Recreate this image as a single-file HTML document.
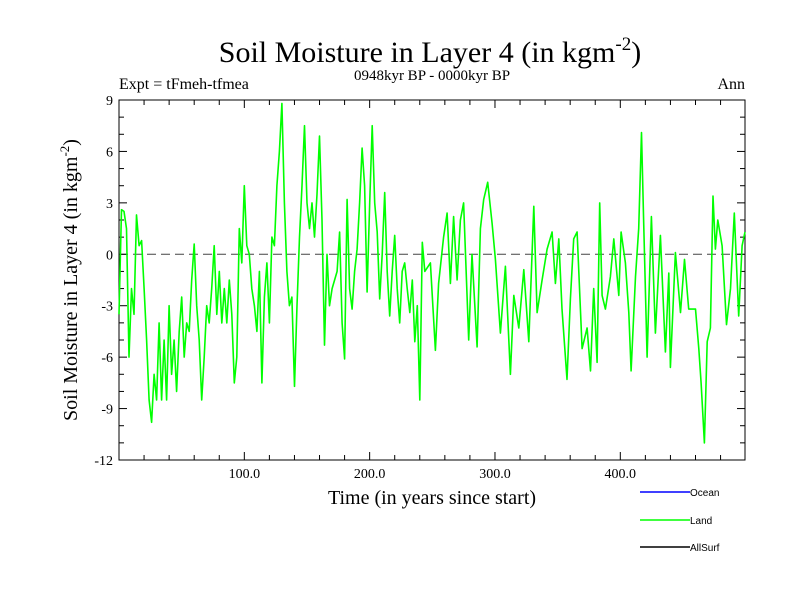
<!DOCTYPE html>
<html><head><meta charset="utf-8"><style>
body{margin:0;background:#fff}
svg text{font-family:"Liberation Serif",serif}
</style></head><body>
<svg id="chart" width="800" height="600" xmlns="http://www.w3.org/2000/svg">
<rect width="800" height="600" fill="#fff"/>
<text x="430" y="62" font-size="30" text-anchor="middle">Soil Moisture in Layer 4 (in kgm<tspan dy="-12" font-size="19">-2</tspan><tspan dy="12">)</tspan></text>
<text x="432" y="80" font-size="15" text-anchor="middle">0948kyr BP - 0000kyr BP</text>
<text x="119" y="89" font-size="16">Expt = tFmeh-tfmea</text>
<text x="745" y="89" font-size="16" text-anchor="end">Ann</text>
<text transform="translate(77,280) rotate(-90)" font-size="20" text-anchor="middle">Soil Moisture in Layer 4 (in kgm<tspan dy="-8" font-size="13">-2</tspan><tspan dy="8">)</tspan></text>
<text x="432" y="504" font-size="20" text-anchor="middle">Time (in years since start)</text>
<g id="axes"></g>
<g id="series"></g>
<g font-family="Liberation Sans" font-size="10">
<line x1="640" y1="492" x2="690" y2="492" stroke="#0000ff" stroke-width="1.5"/>
<text x="690" y="496" style="font-family:'Liberation Sans',sans-serif" font-size="10">Ocean</text>
<line x1="640" y1="520" x2="690" y2="520" stroke="#00ff00" stroke-width="1.5"/>
<text x="690" y="524" style="font-family:'Liberation Sans',sans-serif" font-size="10">Land</text>
<line x1="640" y1="547" x2="690" y2="547" stroke="#000" stroke-width="1.5"/>
<text x="690" y="551" style="font-family:'Liberation Sans',sans-serif" font-size="10">AllSurf</text>
</g>
</svg>
<script>
const years=[0,2,4,6,8,10,12,14,16,18,20,22,24,26,28,30,32,34,36,38,40,42,44,46,48,50,52,54,56,58,60,62,64,66,68,70,72,74,76,78,80,82,84,86,88,90,92,94,96,98,100,102,104,106,108,110,112,114,116,118,120,122,124,126,128,130,132,134,136,138,140,142,144,146,148,150,152,154,156,158,160,162,164,166,168,170,172,174,176,178,180,182,184,186,188,190,192,194,196,198,200,202,204,206,208,210,212,214,216,218,220,222,224,226,228,230,232,234,236,238,240,242,244,
248.5,252.5,255,259,261.8,264.4,267,269.8,272.4,275,279,281.7,285.7,288.4,291,294.2,297.7,300.3,304.3,308.3,312.3,315,319,323,327,331,333.6,337.6,341.6,345.6,348.2,350.9,353.5,357.5,360.2,362.8,365.5,369.5,
373.5,376.2,378.8,381.5,383.6,385.5,388.1,392.1,394.8,398.8,400.6,404.1,406.8,408.6,412.1,414.7,416.9,418.7,421.4,424.8,428,432,436,438.7,440,444,448,451.2,454.6,460,462.6,464.5,467.1,469.3,471.9,474,475.9,477.8,481.2,484.7,487.9,491,494.5,497.2,499.5];
const land=[-3.5,2.6,2.5,1.5,-6,-2,-3.5,2.3,0.5,0.8,-2,-5,-8.5,-9.8,-7,-8.5,-4,-8.5,-5,-8.5,-3,-7,-5,-8,-4.5,-2.5,-6,-4,-4.5,-1.5,0.6,-3,-5,-8.5,-6,-3,-4,-2,0.5,-3.5,-1,-4,-2,-4,-1.5,-3.5,-7.5,-6,1.5,-0.5,4,0.5,0,-2,-3,-4.5,-1,-7.5,-2.5,-0.5,-4,1,0.5,4,6,8.8,3,-1,-3,-2.5,-7.7,-3,1,4,7.5,3,1.5,3,1,3.5,6.9,2,-5.3,0,-3,-2,-1.5,-1,1.3,-4,-6.1,3.2,-2,-3.2,-1,0.3,3,6.2,4,-2.2,3,7.5,3,1.3,-2.6,0,3.6,-1,-3.6,-1,1.1,-2,-4,-1,-0.5,-2,-3.4,-1.5,-5.1,-3,-8.5,0.7,-1,
-0.5,-5.6,-1.7,1,2.4,-1.7,2.2,-1.5,2,3,-5,0,-5.4,1.5,3.2,4.2,1.8,-0.3,-4.6,-0.7,-7,-2.4,-4.3,-0.9,-5.1,2.8,-3.4,-1.5,0.3,1.3,-1.7,0.9,-3.2,-7.3,-2.6,0.9,1.3,-5.5,
-4.3,-6.8,-2,-6.3,3,-2.4,-3.2,-1.3,0.9,-2.4,1.3,-0.5,-3.4,-6.8,-1.3,1.5,7.1,1.8,-6,2.2,-4.6,1.1,-5.7,-1.1,-6.6,0.1,-3.4,-0.3,-3.2,-3.2,-5.5,-7.5,-11,-5.1,-4.3,3.4,0.3,2,0.5,-4.1,-2,2.4,-3.6,0.5,1.3];
const yTicks=[-12,-9,-6,-3,0,3,6,9];
const xTickLabels=[100,200,300,400];
const X0=119,X1=745,Y0=100,Y1=460,XMIN=0,XMAX=499.5,YMIN=-12,YMAX=9;
const NS='http://www.w3.org/2000/svg';
function sx(v){return X0+(v-XMIN)/(XMAX-XMIN)*(X1-X0);}
function sy(v){return Y1-(v-YMIN)/(YMAX-YMIN)*(Y1-Y0);}
function mk(t,a,p){const e=document.createElementNS(NS,t);for(const k in a)e.setAttribute(k,a[k]);p.appendChild(e);return e;}
const ax=document.getElementById('axes'),se=document.getElementById('series');
const frame=mk('rect',{x:X0,y:Y0,width:X1-X0,height:Y1-Y0,fill:'none',stroke:'#000','stroke-width':1},ax);


const zl=mk('line',{x1:X0,x2:X1,y1:sy(0),y2:sy(0),stroke:'#444','stroke-dasharray':'9,5','stroke-width':1},ax);


for(let v=YMIN;v<=YMAX;v++){const L=(v%3===0)?8:5;
 mk('line',{x1:X0,x2:X0+L,y1:sy(v),y2:sy(v),stroke:'#000'},ax);
 mk('line',{x1:X1,x2:X1-L,y1:sy(v),y2:sy(v),stroke:'#000'},ax);}
yTicks.forEach(v=>{const t=mk('text',{x:X0-6,y:sy(v)+5,'font-size':14,'text-anchor':'end'},ax);t.textContent=v;
 
 });
for(let v=20;v<XMAX;v+=20){const L=(v%100===0)?8:5;
 mk('line',{x1:sx(v),x2:sx(v),y1:Y1,y2:Y1-L,stroke:'#000'},ax);
 mk('line',{x1:sx(v),x2:sx(v),y1:Y0,y2:Y0+L,stroke:'#000'},ax);}
xTickLabels.forEach(v=>{const t=mk('text',{x:sx(v),y:Y1+18,'font-size':14,'text-anchor':'middle'},ax);t.textContent=v.toFixed(1);
 
 });
const pts=years.map((y,i)=>sx(y).toFixed(1)+','+sy(land[i]).toFixed(1)).join(' ');
const pl=mk('polyline',{points:pts,fill:'none',stroke:'#00ff00','stroke-width':1.6,'stroke-linejoin':'round'},se);


</script>
</body></html>
